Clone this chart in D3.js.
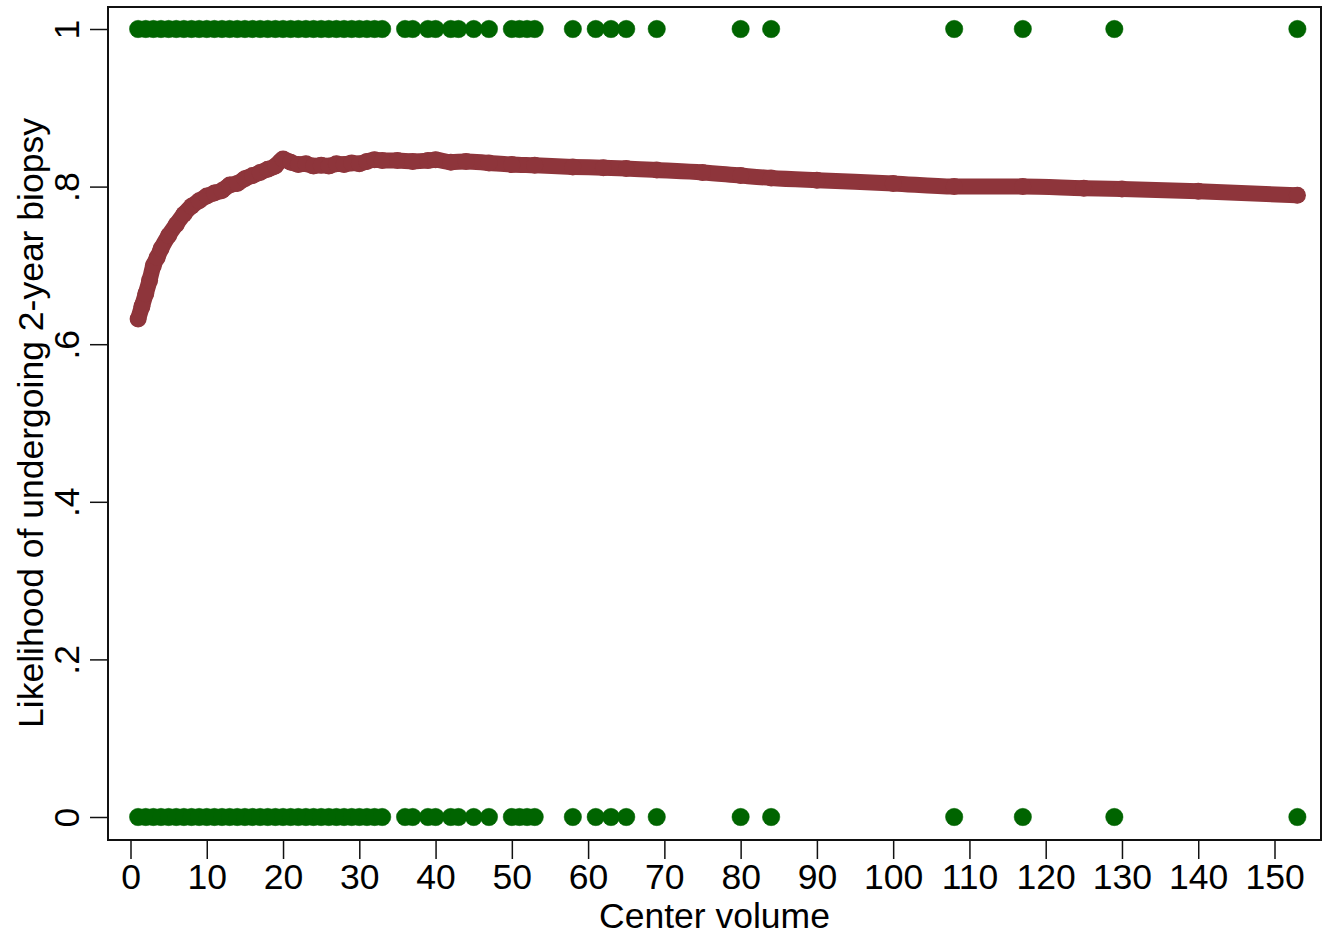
<!DOCTYPE html>
<html>
<head>
<meta charset="utf-8">
<script src="https://cdn.jsdelivr.net/npm/d3@7/dist/d3.min.js"></script>
<style>
  html, body { margin: 0; padding: 0; background: #fff; }
  svg { display: block; }
  text { font-family: "Liberation Sans", Arial, sans-serif; fill: #000; }
</style>
</head>
<body>
<svg id="chart" width="1331" height="937"></svg>
<script>
// ---- Data ----
const centerVolumes = [1,2,3,4,5,6,7,8,9,10,11,12,13,14,15,16,17,18,19,20,21,22,23,24,25,26,27,28,29,30,31,32,33,
  36,37,39,40,42,43,45,47,50,51,52,53,58,61,63,65,69,80,84,108,117,129,153];
const outcomeLevels = [0, 1];

const curveX = [1,1.5,2,2.5,3,3.5,4,5,6,7,8,9,10,11,12,13,14,15,16,17,18,19,20,21,22,23,24,25,26,27,28,29,30,31,32,33,35,37,39,40,42,44,47,50,53,58,62,65,69,75,80,84,90,100,108,117,125,130,140,153];
const curveY = [.632,.648,.664,.681,.700,.710,.721,.738,.752,.765,.775,.782,.788,.792,.795,.802,.804,.810,.814,.818,.822,.826,.835,.831,.828,.829,.826,.827,.826,.829,.828,.830,.829,.832,.834,.833,.833,.832,.833,.834,.831,.832,.830,.828,.827,.825,.824,.823,.821,.818,.814,.811,.808,.804,.800,.800,.798,.797,.794,.789];

const xTicks = [0,10,20,30,40,50,60,70,80,90,100,110,120,130,140,150];
const yTicks = [0,.2,.4,.6,.8,1];
const yTickLabels = ["0",".2",".4",".6",".8","1"];

// ---- Layout ----
const svg = d3.select("#chart");
const frame = {left: 108, right: 1321, top: 7, bottom: 840};
const x = d3.scaleLinear().domain([0,150]).range([130.5,1274.5]);
const y = d3.scaleLinear().domain([0,1]).range([817,29]);

const green = "#006400";
const red = "#8E353B";
const fontSize = "35.5px";

// plot frame
svg.append("rect")
  .attr("x", frame.left).attr("y", frame.top)
  .attr("width", frame.right - frame.left).attr("height", frame.bottom - frame.top)
  .attr("fill", "none").attr("stroke", "#111").attr("stroke-width", 2);

// x axis
const xAxis = d3.axisBottom(x).tickValues(xTicks).tickSize(19).tickPadding(5).tickFormat(d3.format("d"));
const gx = svg.append("g").attr("transform", `translate(0,${frame.bottom})`).call(xAxis);
gx.select(".domain").remove();
gx.selectAll("line").attr("stroke", "#111").attr("stroke-width", 1.5);
gx.selectAll("text").style("font-size", fontSize).style("font-family", '"Liberation Sans", Arial, sans-serif').attr("fill", "#000");

// y axis
const yAxis = d3.axisLeft(y).tickValues(yTicks).tickSize(18).tickFormat((d,i) => yTickLabels[i]);
const gy = svg.append("g").attr("transform", `translate(${frame.left},0)`).call(yAxis);
gy.select(".domain").remove();
gy.selectAll("line").attr("stroke", "#111").attr("stroke-width", 1.5);
gy.selectAll("text")
  .style("font-size", fontSize).style("font-family", '"Liberation Sans", Arial, sans-serif')
  .attr("fill", "#000")
  .attr("x", 0).attr("dy", null)
  .attr("text-anchor", "middle")
  .attr("transform", "translate(-29,0) rotate(-90)")
  .attr("y", 0);

// axis titles
svg.append("text")
  .attr("x", (x(0) + x(150)) / 2 + 12).attr("y", 928)
  .attr("text-anchor", "middle").style("font-size", fontSize)
  .text("Center volume");
svg.append("text")
  .attr("transform", `translate(43,${(y(0)+y(1))/2}) rotate(-90)`)
  .attr("text-anchor", "middle").style("font-size", fontSize)
  .text("Likelihood of undergoing 2-year biopsy");

// green observed dots
const pts = [];
outcomeLevels.forEach(lv => centerVolumes.forEach(v => pts.push({v, lv})));
svg.append("g").selectAll("circle").data(pts).join("circle")
  .attr("cx", d => x(d.v)).attr("cy", d => y(d.lv)).attr("r", 8.7)
  .attr("fill", green).attr("stroke", green).attr("stroke-width", 0.5);

// fitted curve
const curve = curveX.map((v,i) => ({v, p: curveY[i]}));
const line = d3.line().x(d => x(d.v)).y(d => y(d.p)).curve(d3.curveMonotoneX);
svg.append("path").datum(curve)
  .attr("d", line).attr("fill", "none").attr("stroke", red)
  .attr("stroke-width", 16).attr("stroke-linecap", "round").attr("stroke-linejoin", "round");
svg.append("g").selectAll("circle").data(curve).join("circle")
  .attr("cx", d => x(d.v)).attr("cy", d => y(d.p)).attr("r", 8.5).attr("fill", red);
</script>
</body>
</html>
